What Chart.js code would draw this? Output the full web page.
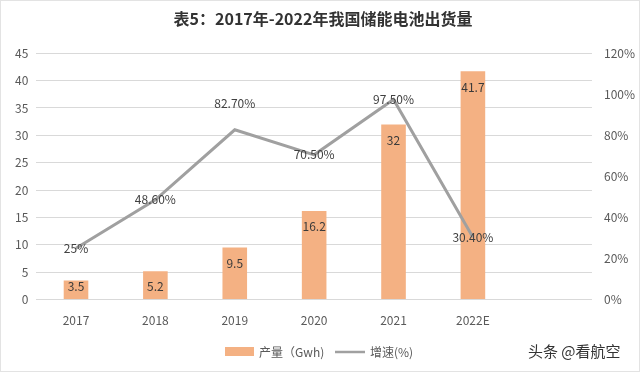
<!DOCTYPE html>
<html>
<head>
<meta charset="utf-8">
<script src="https://cdn.jsdelivr.net/npm/chart.js@4"></script>
<style>
    html, body { margin: 0; padding: 0; background: #fff; }
    #wrap { width: 638px; height: 370px; border: 1px solid #e3e3e3; }
</style>
</head>
<body>
<div id="wrap"><canvas id="chart" width="638" height="370"></canvas></div>
<script>
const years = ['2017', '2018', '2019', '2020', '2021', '2022E', ''];
const output = [3.5, 5.2, 9.5, 16.2, 32, 41.7, null];
const growth = [0.25, 0.486, 0.827, 0.705, 0.975, 0.304, null];
const growthText = ['25%', '48.60%', '82.70%', '70.50%', '97.50%', '30.40%'];

const font = '"Noto Sans CJK SC", "Noto Sans", sans-serif';
const orange = '#f4b183';
const grey = '#a0a0a0';

// labels, legend and watermark drawn by hand
const extras = {
    id: 'extras',
    afterDatasetsDraw(chart) {
        const ctx = chart.ctx;
        ctx.save();
        ctx.textAlign = 'center';
        ctx.textBaseline = 'middle';
        ctx.font = '12px ' + font;

        ctx.fillStyle = '#3a3a3a';
        chart.getDatasetMeta(0).data.forEach((bar, i) => {
            if (output[i] == null) return;
            const y = Math.min(bar.y + 16, bar.base - 13);
            ctx.fillText(String(output[i]), bar.x, y);
        });

        ctx.fillStyle = '#404040';
        chart.getDatasetMeta(1).data.forEach((pt, i) => {
            if (growth[i] == null) return;
            const dy = i == 2 ? -26 : 0;
            ctx.fillText(growthText[i], pt.x, pt.y + dy);
        });

        // legend
        ctx.fillStyle = orange;
        ctx.fillRect(224, 346, 29, 9);
        ctx.fillStyle = '#595959';
        ctx.textAlign = 'left';
        ctx.font = '12px ' + font;
        ctx.fillText('产量（Gwh)', 258, 351);
        ctx.strokeStyle = grey;
        ctx.lineWidth = 2.5;
        ctx.beginPath();
        ctx.moveTo(334, 351);
        ctx.lineTo(364, 351);
        ctx.stroke();
        ctx.fillText('增速(%)', 369, 351);

        ctx.font = '15px ' + font;
        ctx.fillStyle = '#333';
        ctx.fillText('头条 @看航空', 527, 350);
        ctx.restore();
    }
};

const chart = new Chart(document.getElementById('chart'), {
    type: 'bar',
    data: {
        labels: years,
        datasets: [
            {
                type: 'bar',
                label: '产量（Gwh)',
                data: output,
                backgroundColor: orange,
                barPercentage: 0.31,
                categoryPercentage: 1,
                yAxisID: 'y',
                order: 2
            },
            {
                type: 'line',
                label: '增速(%)',
                data: growth,
                borderColor: grey,
                borderWidth: 3,
                pointRadius: 0,
                tension: 0,
                yAxisID: 'y1',
                order: 1
            }
        ]
    },
    options: {
        responsive: false,
        animation: false,
        layout: {
            padding: { left: 6, right: 0, top: 0, bottom: 37 }
        },
        plugins: {
            legend: { display: false },
            tooltip: { enabled: false },
            title: {
                display: true,
                text: '表5：2017年-2022年我国储能电池出货量',
                color: '#333',
                font: { family: font, size: 16, weight: 'bold' },
                padding: { top: 8, bottom: 25 }
            }
        },
        scales: {
            x: {
                grid: { display: false },
                border: { display: false },
                ticks: { color: '#595959', font: { family: font, size: 12 }, padding: 6 }
            },
            y: {
                min: 0,
                max: 45,
                ticks: { stepSize: 5, color: '#595959', font: { family: font, size: 12 }, padding: 8 },
                grid: { color: '#d9d9d9', drawTicks: false },
                border: { display: false }
            },
            y1: {
                position: 'right',
                min: 0,
                max: 1.2,
                ticks: {
                    stepSize: 0.2,
                    color: '#595959',
                    font: { family: font, size: 12 },
                    padding: 4,
                    callback: v => Math.round(v * 100) + '%'
                },
                grid: { display: false },
                border: { display: false }
            }
        }
    },
    plugins: [extras]
});
</script>
</body>
</html>
